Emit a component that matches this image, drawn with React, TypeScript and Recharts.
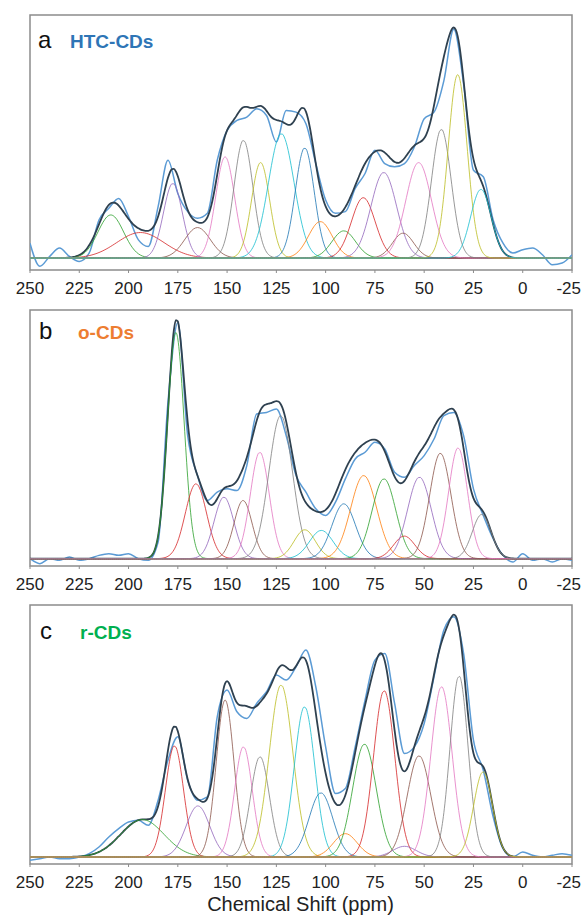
import React from "react";
import {
  LineChart,
  Line,
  XAxis,
  YAxis,
  ReferenceArea,
} from "recharts";

// tab10 palette, components cycle through it starting at green
const PALETTE = [
  "#1f77b4",
  "#ff7f0e",
  "#2ca02c",
  "#d62728",
  "#9467bd",
  "#8c564b",
  "#e377c2",
  "#7f7f7f",
  "#bcbd22",
  "#17becf",
];

const shiftTicks = [250, 225, 200, 175, 150, 125, 100, 75, 50, 25, 0, -25];
const intensityTicks = [0, 50, 100, 150, 200, 250, 300, 350, 400, 450, 500, 550, 600, 650, 700];

// measured spectrum, sampled every 5 ppm from 250 down to -25
const aSpectrum = [
  45, -25, 5, 30, 5, -10, 15, 115, 150, 180, 125, 55, 35, 155, 295, 195, 140, 120,
  135, 295, 385, 415, 425, 450, 430, 350, 445, 440, 405, 285, 175, 135, 140, 210,
  255, 325, 285, 275, 285, 335, 420, 440, 535, 690, 525, 265, 245, 115, 45, 15, 25,
  30, 10, -20, -15, 10,
];
const bSpectrum = [
  0, -15, 0, -5, 5, -5, 0, 10, 15, 10, 15, 0, -5, 50, 470, 710, 370, 250, 175, 200,
  210, 205, 280, 435, 440, 450, 370, 250, 200, 150, 130, 170, 240, 300, 320, 350,
  330, 260, 245, 280, 310, 360, 430, 440, 370, 210, 130, 60, 10, -10, 15, -5, 0,
  -10, 0, -5,
];
const cSpectrum = [
  -10, -5, 0, -5, -5, 0, 10, 30, 60, 85, 105, 110, 95, 170, 290, 360, 230, 170, 180,
  420, 500, 435, 415, 460, 495, 545, 530, 570, 620, 510, 330, 190, 205, 330, 470,
  590, 610, 460, 310, 330, 400, 540, 680, 720, 610, 350, 260, 120, 25, 0, 15, 5, 0,
  5, 10, 5,
];

// fitted gaussian components: centre (ppm), height, sigma (ppm)
const aCenters = [209, 194, 177.5, 165, 151, 141.7, 133, 122.5, 110.6, 102.7, 90.8, 80.9, 70.5, 60.7, 52.8, 41.3, 33, 21.2];
const aHeights = [130, 77, 225, 92, 305, 355, 288, 375, 332, 110, 82, 182, 258, 75, 288, 388, 553, 207];
const aWidths = [6.5, 12, 4.8, 6.5, 4.8, 4.8, 4.6, 6.5, 4.8, 6, 6, 6, 6.5, 5.4, 6.5, 5, 4.8, 5.2];

const bCenters = [176, 165.8, 151.6, 141.9, 133.4, 122.8, 110.6, 102.2, 90.8, 80.7, 70.4, 60.1, 52.4, 41.8, 32.8, 20.8];
const bHeights = [680, 225, 185, 175, 320, 430, 87, 85, 165, 250, 240, 68, 245, 317, 333, 133];
const bWidths = [4.2, 5.4, 5, 4.6, 4.8, 6, 5.4, 6, 6, 6.6, 6, 5.4, 6, 5.4, 4.8, 4.8];

const cCenters = [193, 176.7, 164.8, 151, 141.7, 133.3, 122.6, 110.7, 102.4, 90, 80.3, 70.3, 60, 52.6, 41.2, 32.3, 20.1];
const cHeights = [112, 333, 153, 470, 330, 300, 515, 450, 192, 70, 338, 498, 32, 303, 510, 542, 255];
const cWidths = [11, 4.6, 6, 4.5, 4.5, 4.8, 6, 5.2, 6, 6, 6, 5.4, 6, 6, 5.4, 4.6, 4.8];

function buildRows(spectrum, centers, heights, widths) {
  const rows = [];
  for (let x = 250; x >= -25; x -= 1) {
    const row = { x };
    let fit = 0;
    centers.forEach((c, i) => {
      const v = heights[i] * Math.exp(-((x - c) ** 2) / (2 * widths[i] ** 2));
      row["c" + i] = v;
      fit += v;
    });
    row.fit = fit;
    row.exp = x % 5 === 0 ? spectrum[(250 - x) / 5] : null;
    rows.push(row);
  }
  return rows;
}

const FONT = "'Liberation Sans', Arial, sans-serif";

function ShiftTick({ x, y, payload }) {
  const last = payload.value === -25;
  return (
    <text
      x={last ? x + 9 : x}
      y={y}
      dy="0.71em"
      textAnchor={last ? "end" : "middle"}
      fill="#222"
      fontSize={17}
      fontFamily={FONT}
    >
      {payload.value}
    </text>
  );
}

function Panel({ top, plotHeight, domain, spectrum, centers, heights, widths }) {
  const rows = buildRows(spectrum, centers, heights, widths);
  return (
    <div style={{ position: "absolute", left: 0, top: top - 5 }}>
      <LineChart
        width={582}
        height={5 + plotHeight + 32}
        data={rows}
        margin={{ top: 5, right: 10, bottom: 0, left: 30 }}
      >
        <XAxis
          dataKey="x"
          type="number"
          domain={[-25, 250]}
          reversed
          ticks={shiftTicks}
          interval={0}
          height={32}
          axisLine={false}
          tickLine={{ stroke: "#8c8c8c" }}
          tickSize={3}
          tickMargin={9}
          tick={ShiftTick}
          allowDataOverflow
        />
        <YAxis
          type="number"
          domain={domain}
          ticks={intensityTicks}
          width={0}
          axisLine={false}
          tickLine={{ stroke: "#9a9a9a" }}
          tickSize={3}
          tick={() => <g />}
          allowDataOverflow
        />
        <ReferenceArea
          x1={250}
          x2={-25}
          y1={domain[0]}
          y2={domain[1]}
          fill="none"
          stroke="#8c8c8c"
          strokeWidth={1.5}
          ifOverflow="visible"
        />
        <Line
          dataKey="exp"
          type="monotone"
          stroke="#5b9bd5"
          strokeWidth={1.5}
          dot={false}
          connectNulls
          isAnimationActive={false}
        />
        <Line
          dataKey="fit"
          type="monotone"
          stroke="#2f4150"
          strokeWidth={1.8}
          dot={false}
          isAnimationActive={false}
        />
        {centers.map((c, i) => (
          <Line
            key={"c" + i}
            dataKey={"c" + i}
            type="monotone"
            stroke={PALETTE[(i + 2) % 10]}
            strokeOpacity={0.8}
            strokeWidth={1}
            dot={false}
            isAnimationActive={false}
          />
        ))}
      </LineChart>
    </div>
  );
}

function Label({ top, left, letter, name, color, nameLeft }) {
  return (
    <>
      <div
        style={{
          position: "absolute",
          top,
          left,
          fontFamily: FONT,
          fontSize: 24,
          color: "#111",
          lineHeight: "24px",
        }}
      >
        {letter}
      </div>
      <div
        style={{
          position: "absolute",
          top: top + 2,
          left: nameLeft,
          fontFamily: FONT,
          fontSize: 19,
          fontWeight: "bold",
          color,
          lineHeight: "24px",
        }}
      >
        {name}
      </div>
    </>
  );
}

export default function App() {
  return (
    <div
      style={{
        position: "absolute",
        left: 0,
        top: 0,
        width: 582,
        height: 915,
        background: "#fff",
        overflow: "hidden",
      }}
    >
      <Panel
        top={15}
        plotHeight={255}
        domain={[-36, 733]}
        spectrum={aSpectrum}
        centers={aCenters}
        heights={aHeights}
        widths={aWidths}
      />
      <Panel
        top={310}
        plotHeight={256}
        domain={[-22, 748]}
        spectrum={bSpectrum}
        centers={bCenters}
        heights={bHeights}
        widths={bWidths}
      />
      <Panel
        top={605}
        plotHeight={259}
        domain={[-21, 755]}
        spectrum={cSpectrum}
        centers={cCenters}
        heights={cHeights}
        widths={cWidths}
      />
      <Label top={28} left={38} letter="a" name="HTC-CDs" color="#2e75b6" nameLeft={70} />
      <Label top={319} left={39} letter="b" name="o-CDs" color="#ed7d31" nameLeft={78} />
      <Label top={619} left={40} letter="c" name="r-CDs" color="#00b050" nameLeft={80} />
      <div
        style={{
          position: "absolute",
          top: 893,
          left: 30,
          width: 541,
          textAlign: "center",
          fontFamily: FONT,
          fontSize: 20,
          color: "#222",
          lineHeight: "22px",
        }}
      >
        Chemical Shift (ppm)
      </div>
    </div>
  );
}
